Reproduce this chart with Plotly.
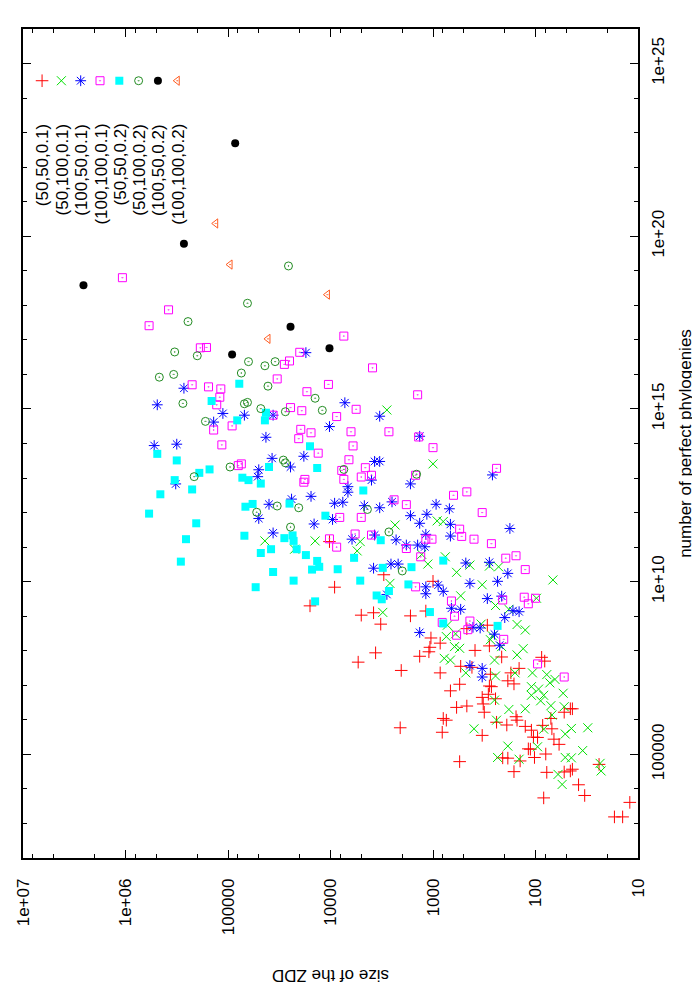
import numpy as np
import plotly.graph_objects as go

# Values, stored as log10 exponents.
# zdd = size of the ZDD, phy = number of perfect phylogenies

LABELS = ["(50,50,0.1)", "(50,100,0.1)", "(100,50,0.1)", "(100,100,0.1)",
          "(50,50,0.2)", "(50,100,0.2)", "(100,50,0.2)", "(100,100,0.2)"]

RED_ZDD = [3.96, 4.01, 4.20, 3.70, 3.58, 3.56, 3.73, 3.48, 3.51, 3.22,
           3.07, 3.00, 3.13, 3.04, 3.03, 2.93, 3.02, 2.67, 2.47, 3.31,
           2.93, 2.73, 2.59, 2.45, 2.33, 2.74, 2.83, 2.62, 2.44, 2.27,
           2.24, 2.16, 2.21, 2.45, 2.43, 2.46, 2.52, 2.39, 2.51, 2.50,
           2.77, 2.67, 2.90, 2.87, 2.38, 2.28, 2.19, 2.18, 2.10, 2.04,
           2.02, 1.98, 1.93, 1.85, 1.84, 1.72, 1.66, 1.64, 3.32, 2.91,
           2.52, 2.07, 2.05, 2.01, 1.90, 1.82, 1.77, 2.32, 2.27, 2.15,
           2.21, 2.74, 1.89, 1.72, 1.66, 1.64, 1.58, 1.52, 1.92, 1.38,
           1.23, 1.15, 1.08, 1.94, 1.91]
RED_PHY = [9.84, 11.16, 9.30, 9.03, 9.10, 7.94, 7.67, 10.20, 8.77, 9.01,
           9.15, 10.01, 7.84, 7.97, 8.10, 8.22, 8.37, 8.64, 8.74, 7.43,
           7.36, 7.55, 8.01, 8.14, 7.82, 7.03, 6.84, 7.52, 7.32, 7.13,
           7.36, 7.49, 7.04, 6.98, 6.96, 6.74, 6.65, 6.61, 6.46, 6.22,
           6.36, 6.40, 6.04, 5.99, 5.93, 5.85, 6.09, 5.99, 5.81, 5.70,
           5.50, 5.49, 5.84, 6.04, 5.74, 6.22, 6.32, 6.32, 5.77, 5.64,
           5.55, 5.16, 5.15, 4.91, 5.01, 5.44, 5.29, 4.90, 4.89, 4.81,
           4.50, 4.79, 4.48, 4.49, 4.52, 4.57, 4.12, 3.81, 3.74, 4.71,
           3.19, 3.19, 3.61, 7.81, 7.70]

GREEN_ZDD = [3.45, 3.00, 3.37, 2.96, 2.90, 3.71, 4.64, 4.15, 4.35, 3.74,
             3.49, 3.42, 3.11, 3.05, 2.88, 2.77, 2.64, 2.45, 2.36, 2.52,
             1.83, 2.73, 2.39, 2.26, 1.99, 2.18, 2.10, 2.86, 2.87, 2.78,
             2.53, 2.42, 2.79, 2.74, 2.89, 2.83, 2.40, 2.44, 2.33, 2.18,
             2.12, 2.68, 2.39, 2.20, 2.03, 1.89, 1.86, 1.81, 2.04, 1.97,
             1.92, 2.04, 1.95, 1.73, 2.40, 2.26, 2.10, 1.85, 1.72, 2.38,
             2.60, 1.92, 1.84, 1.71, 1.65, 1.49, 1.98, 2.27, 2.37, 2.16,
             1.71, 1.65, 1.54, 1.37, 1.36, 1.78, 1.74]
GREEN_PHY = [14.97, 13.41, 11.64, 11.76, 11.74, 11.16, 11.18, 11.18, 10.94, 10.89,
             9.11, 9.95, 10.79, 10.51, 10.72, 10.27, 10.48, 10.45, 10.43, 9.91,
             10.05, 9.59, 9.31, 9.20, 9.52, 8.76, 8.60, 8.74, 8.41, 8.49,
             8.77, 8.43, 8.12, 8.07, 7.78, 7.73, 7.73, 8.32, 8.12, 7.88,
             8.06, 7.36, 7.27, 7.36, 7.36, 7.31, 7.07, 7.17, 6.96, 6.89,
             6.71, 6.71, 6.55, 6.77, 6.57, 6.30, 6.32, 6.41, 6.38, 5.99,
             5.74, 5.73, 6.14, 5.59, 5.75, 5.77, 5.22, 5.24, 4.91, 4.86,
             4.91, 4.90, 5.11, 4.74, 4.52, 4.42, 4.13]

BLUE_ZDD = [4.24, 5.43, 5.69, 5.05, 4.84, 5.14, 4.56, 3.86, 4.01, 4.63,
            5.72, 5.50, 4.57, 4.26, 4.39, 4.70, 4.71, 3.52, 3.13, 3.57,
            3.52, 2.42, 3.22, 3.83, 3.83, 3.88, 3.67, 3.52, 3.40, 3.60,
            2.97, 2.84, 3.22, 3.06, 3.13, 2.83, 2.25, 3.79, 3.57, 3.36,
            3.07, 2.83, 3.26, 3.15, 3.08, 5.51, 4.70, 4.60, 4.56, 4.38,
            4.19, 4.16, 3.96, 3.98, 3.58, 3.41, 3.34, 2.68, 2.45, 2.27,
            2.37, 2.64, 3.07, 2.95, 2.90, 3.07, 3.45, 2.47, 2.33, 2.82,
            2.73, 2.22, 2.16, 2.30, 3.13, 2.61, 2.54, 2.40, 2.35, 2.64,
            2.52, 2.52]
BLUE_PHY = [16.63, 15.60, 15.12, 14.87, 14.82, 14.62, 14.82, 15.18, 14.49, 14.18,
            13.94, 13.98, 13.57, 13.63, 13.32, 13.24, 13.04, 14.79, 14.21, 13.48,
            13.48, 13.09, 12.83, 12.75, 12.59, 12.30, 12.20, 12.14, 12.31, 12.94,
            12.24, 12.11, 11.91, 11.95, 11.69, 11.66, 11.54, 11.23, 11.35, 11.21,
            11.37, 11.32, 11.06, 11.06, 11.01, 12.83, 11.83, 12.24, 11.41, 12.39,
            12.47, 11.67, 12.27, 11.80, 10.39, 10.51, 10.51, 10.54, 10.56, 10.24,
            10.01, 9.95, 9.85, 9.90, 9.72, 9.65, 9.63, 9.51, 9.58, 9.23,
            9.20, 9.16, 9.13, 8.96, 8.53, 8.68, 8.66, 8.48, 8.16, 7.57,
            7.49, 7.24]

MAG_ZDD = [6.03, 5.58, 5.77, 5.27, 5.21, 4.30, 4.40, 4.45, 4.52, 3.87,
           5.35, 5.19, 5.07, 5.08, 5.11, 4.23, 4.02, 4.39, 4.28, 3.75,
           3.94, 4.56, 4.96, 5.14, 4.29, 4.19, 3.80, 4.31, 5.06, 3.78,
           4.12, 3.82, 4.87, 4.90, 3.89, 4.25, 3.87, 3.59, 3.15, 3.43,
           3.14, 3.00, 3.66, 3.60, 3.70, 3.17, 2.38, 2.80, 2.67, 3.26,
           3.38, 2.52, 3.70, 3.76, 3.60, 3.07, 3.01, 2.74, 2.72, 2.60,
           2.43, 4.26, 3.91, 4.01, 3.94, 3.26, 3.12, 2.29, 2.19, 2.10,
           3.17, 2.82, 2.79, 2.91, 2.64, 2.66, 2.77, 2.32, 2.31, 2.11,
           2.07, 2.00, 1.98, 1.72]
MAG_PHY = [18.80, 17.87, 17.41, 16.77, 16.78, 16.64, 16.39, 16.29, 15.87, 17.11,
           15.70, 15.64, 15.58, 15.34, 15.12, 15.50, 15.71, 15.04, 14.95, 14.99,
           14.78, 14.82, 14.51, 14.39, 14.41, 14.31, 14.34, 14.14, 13.96, 13.93,
           13.72, 13.53, 13.41, 13.36, 13.22, 12.96, 12.96, 16.19, 15.41, 14.34,
           14.19, 13.88, 13.30, 13.08, 13.03, 13.08, 13.28, 12.50, 12.60, 12.23,
           12.37, 12.00, 11.86, 11.38, 11.35, 11.23, 11.23, 11.52, 11.31, 11.23,
           11.10, 12.88, 11.86, 11.24, 11.00, 10.96, 10.72, 10.68, 10.75, 10.35,
           9.85, 9.44, 9.00, 8.82, 8.86, 8.61, 8.45, 9.47, 8.33, 9.55,
           9.36, 9.52, 7.62, 7.24]

CYAN_ZDD = [4.89, 5.16, 4.91, 4.64, 4.63, 4.20, 5.69, 5.50, 5.18, 5.28,
            4.60, 4.13, 5.52, 4.86, 4.80, 5.66, 5.35, 5.77, 5.31, 5.41,
            5.46, 4.68, 4.83, 4.76, 4.40, 4.84, 4.68, 4.58, 4.56, 4.73,
            4.45, 4.37, 4.36, 4.33, 4.24, 4.13, 4.11, 4.18, 4.36, 3.93,
            4.05, 3.68, 3.77, 3.71, 4.15, 3.55, 3.51, 3.49, 3.21, 2.90,
            3.24, 3.43, 3.50, 3.03, 2.90, 2.37]
CYAN_PHY = [15.73, 15.23, 14.67, 14.67, 14.89, 13.92, 13.70, 13.51, 13.25, 13.15,
            13.32, 13.29, 12.94, 13.01, 12.94, 12.53, 12.67, 11.97, 11.69, 11.23,
            10.58, 12.84, 12.17, 12.25, 12.26, 11.33, 10.83, 10.94, 10.28, 9.84,
            11.26, 11.34, 11.18, 10.94, 10.77, 10.60, 10.43, 10.35, 10.03, 10.36,
            11.91, 12.64, 10.69, 10.03, 9.43, 9.60, 11.20, 10.40, 10.42, 10.61,
            9.92, 9.73, 9.49, 9.12, 8.79, 8.72]

CIRC_ZDD = [4.41, 4.81, 5.39, 5.52, 5.30, 4.80, 4.64, 4.54, 4.87, 4.61,
            5.67, 5.53, 5.44, 4.15, 4.84, 4.81, 4.68, 4.44, 4.08, 5.22,
            4.98, 4.46, 4.44, 3.87, 5.33, 3.16, 3.64, 3.43, 4.72, 4.52,
            4.31, 4.39, 3.30]
CIRC_PHY = [19.14, 18.06, 17.53, 16.65, 16.54, 16.37, 16.25, 16.37, 16.04, 15.66,
            15.92, 16.00, 15.16, 15.31, 15.15, 15.19, 15.01, 14.92, 14.96, 14.64,
            13.32, 13.52, 13.44, 13.25, 13.04, 13.11, 12.09, 11.44, 12.01, 12.19,
            12.14, 11.58, 10.31]

BLACK_ZDD = [4.93, 5.43, 6.41, 4.39, 4.96, 4.01]
BLACK_PHY = [22.69, 19.78, 18.58, 17.38, 16.58, 16.76]

ORANGE_ZDD = [5.12, 4.98, 4.03, 4.61]
ORANGE_PHY = [20.37, 19.18, 18.31, 17.03]

ZDD_TICKS = [1e7, 1e6, 1e5, 1e4, 1e3, 1e2, 1e1]
ZDD_TICKTEXT = ["1e+07", "1e+06", "100000", "10000", "1000", "100", "10"]
PHY_TICKS = [1e5, 1e10, 1e15, 1e20, 1e25]
PHY_TICKTEXT = ["100000", "1e+10", "1e+15", "1e+20", "1e+25"]

DATA = [(RED_ZDD, RED_PHY), (GREEN_ZDD, GREEN_PHY), (BLUE_ZDD, BLUE_PHY),
        (MAG_ZDD, MAG_PHY), (CYAN_ZDD, CYAN_PHY), (CIRC_ZDD, CIRC_PHY),
        (BLACK_ZDD, BLACK_PHY), (ORANGE_ZDD, ORANGE_PHY)]

# gnuplot-ish point styles: (symbol, colour, size, filled)
STYLES = [
    ("cross-thin", "#ff0000", 9, False),
    ("x-thin", "#00e000", 9, False),
    ("asterisk", "#0000ff", 9, False),
    ("square-open-dot", "#ff00ff", 8, False),
    ("square", "#00ffff", 8, True),
    ("circle-open-dot", "#228b22", 8, False),
    ("circle", "#000000", 8, True),
    ("triangle-left-open-dot", "#ff5a1f", 8, False),
]

FONT = "Liberation Sans, Arial, Helvetica, sans-serif"


def marker_for(style):
    symbol, color, size, filled = style
    if filled:
        return dict(symbol=symbol, size=size, color=color, line=dict(width=0))
    return dict(symbol=symbol, size=size, color=color,
                line=dict(color=color, width=1))


fig = go.Figure()

for (zdd, phy), style in zip(DATA, STYLES):
    fig.add_trace(go.Scatter(
        x=10 ** np.array(zdd), y=10 ** np.array(phy),
        mode="markers", marker=marker_for(style),
        showlegend=False, hoverinfo="skip",
    ))

# key, drawn sideways like the rotated gnuplot page
LEG_X0, LEG_DX, LEG_Y, LEG_TXT_Y = 0.031, 0.0314, 0.9376, 0.888
for i, (label, style) in enumerate(zip(LABELS, STYLES)):
    fig.add_trace(go.Scatter(
        x=[LEG_X0 + i * LEG_DX], y=[LEG_Y], xaxis="x2", yaxis="y2",
        mode="markers", marker=marker_for(style),
        showlegend=False, hoverinfo="skip",
    ))
    fig.add_annotation(
        text=label, xref="paper", yref="paper",
        x=LEG_X0 + i * LEG_DX + 0.002, y=LEG_TXT_Y,
        xanchor="center", yanchor="top", textangle=-90, showarrow=False,
        font=dict(size=17, color="black", family=FONT),
    )

fig.add_annotation(
    text="number of perfect phylogenies", xref="paper", yref="paper",
    x=1.077, y=0.5, xanchor="center", yanchor="middle", textangle=-90,
    showarrow=False, font=dict(size=17, color="black", family=FONT),
)
fig.add_annotation(
    text="size of the ZDD", xref="paper", yref="paper",
    x=0.5, y=-0.142, xanchor="center", yanchor="middle", textangle=180,
    showarrow=False, font=dict(size=17, color="black", family=FONT),
)

axis_common = dict(
    type="log", ticks="inside", ticklen=8, tickwidth=1, tickcolor="black",
    showline=True, linecolor="black", linewidth=1.5, mirror="ticks",
    showgrid=False, zeroline=False, automargin=False,
    tickfont=dict(size=17, color="black", family=FONT), tickangle=-90,
)

# the page body adds an 8px margin, so the figure is 8px smaller each way
fig.update_layout(
    width=692, height=992,
    template="none",
    paper_bgcolor="white", plot_bgcolor="white",
    margin=dict(l=15, r=62, t=21, b=142),
    xaxis=dict(
        axis_common, range=[7, 1],
        tickmode="array", tickvals=ZDD_TICKS, ticktext=ZDD_TICKTEXT,
        ticklabelstandoff=12,
        minor=dict(tickvals=[m * 10 ** k for k in range(1, 7) for m in (2, 5, 8)],
                   ticks="inside", ticklen=4, tickcolor="black", showgrid=False),
    ),
    yaxis=dict(
        axis_common, range=[2, 26], side="right",
        tickmode="array", tickvals=PHY_TICKS, ticktext=PHY_TICKTEXT,
        ticklabelstandoff=4,
        minor=dict(tickvals=[10.0 ** k for k in range(2, 27)],
                   ticks="inside", ticklen=4, tickcolor="black", showgrid=False),
    ),
    xaxis2=dict(overlaying="x", range=[0, 1], visible=False),
    yaxis2=dict(overlaying="y", range=[0, 1], visible=False),
)

fig.write_html("out.html")
